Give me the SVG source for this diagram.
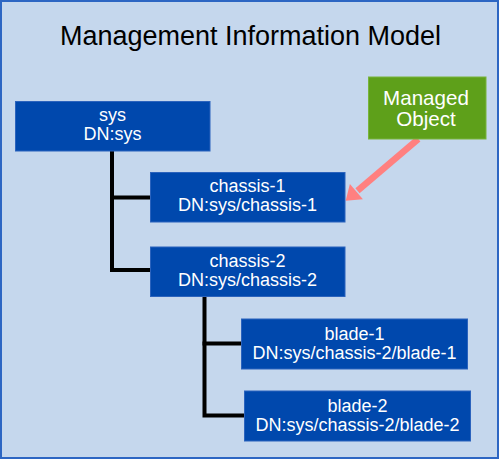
<svg xmlns="http://www.w3.org/2000/svg" width="501" height="460" viewBox="0 0 501 460">
<style>
text { font-family: "Liberation Sans", Arial, sans-serif; }
.box { fill: #0048ad; stroke: #2b63bd; stroke-width: 1; }
.lbl { fill: #ffffff; font-size: 18px; text-anchor: middle; }
.mo { fill: #ffffff; font-size: 20.6px; text-anchor: middle; }
.conn { fill: none; stroke: #000000; stroke-width: 4; stroke-linejoin: miter; stroke-linecap: square; }
</style>
<rect id="frame" x="1" y="1" width="497" height="457" fill="#c5d7ed" stroke="#2d66c3" stroke-width="2"/>
<text id="title" x="250.5" y="45" font-size="27" text-anchor="middle" fill="#000000">Management Information Model</text>
<g id="connectors">
  <path class="conn" d="M112,153 V270 H148"/>
  <path class="conn" d="M112,197.5 H148"/>
  <path class="conn" d="M204.5,299 V415.5 H242"/>
  <path class="conn" d="M204.5,343.5 H239"/>
  <g id="mo-arrow">
    <line x1="418.3" y1="139" x2="357.5" y2="190.7" stroke="#ff8080" stroke-width="6.5"/>
    <polygon points="345.7,200.7 362.9,199.2 349.9,184" fill="#ff8080"/>
  </g>
</g>
<g id="node-sys">
  <rect class="box" x="15.5" y="101.5" width="194.5" height="49.5"/>
  <text class="lbl" x="112.5" y="121">sys</text>
  <text class="lbl" x="112.5" y="140">DN:sys</text>
</g>
<g id="node-chassis-1">
  <rect class="box" x="150.5" y="172.5" width="194.5" height="49.5"/>
  <text class="lbl" x="247.5" y="192">chassis-1</text>
  <text class="lbl" x="247.5" y="211">DN:sys/chassis-1</text>
</g>
<g id="node-chassis-2">
  <rect class="box" x="150.5" y="247" width="194.5" height="49.5"/>
  <text class="lbl" x="247.5" y="267">chassis-2</text>
  <text class="lbl" x="247.5" y="286">DN:sys/chassis-2</text>
</g>
<g id="node-blade-1">
  <rect class="box" x="241.5" y="319" width="226" height="50"/>
  <text class="lbl" x="354.5" y="340">blade-1</text>
  <text class="lbl" x="354.5" y="359">DN:sys/chassis-2/blade-1</text>
</g>
<g id="node-blade-2">
  <rect class="box" x="244.5" y="391" width="226" height="50"/>
  <text class="lbl" x="357.5" y="411.5">blade-2</text>
  <text class="lbl" x="357.5" y="430.5">DN:sys/chassis-2/blade-2</text>
</g>
<g id="node-managed-object">
  <rect x="368.5" y="77" width="117.5" height="62" fill="#5ea01a" stroke="#78b43c" stroke-width="1"/>
  <text class="mo" x="426" y="105">Managed</text>
  <text class="mo" x="426" y="126">Object</text>
</g>
</svg>
